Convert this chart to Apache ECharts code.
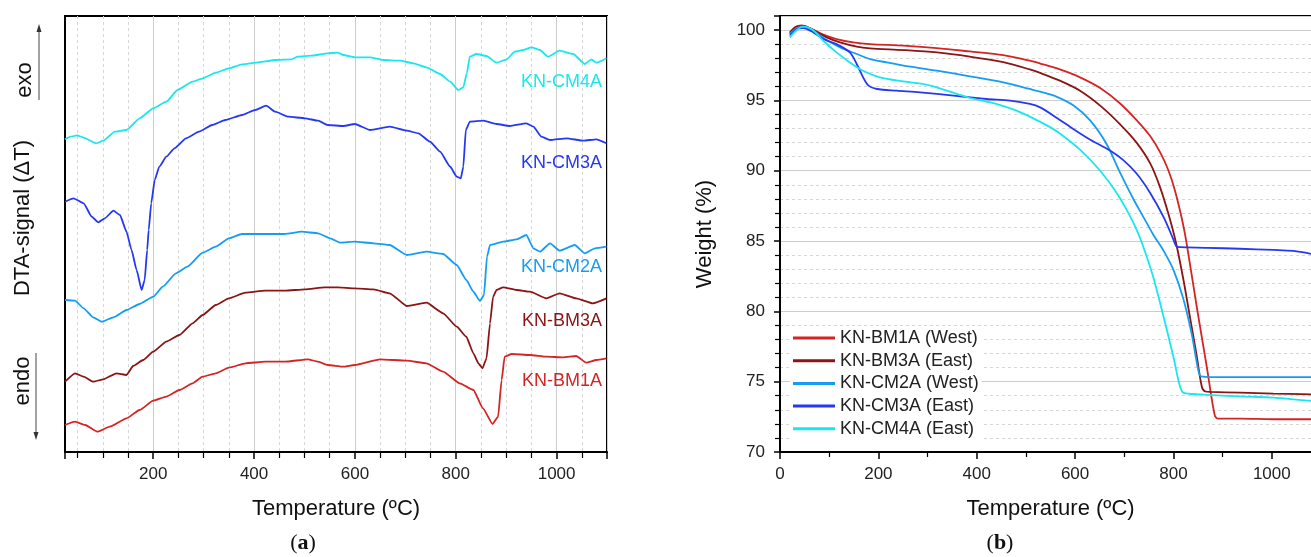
<!DOCTYPE html>
<html><head><meta charset="utf-8">
<script src="https://cdn.jsdelivr.net/npm/echarts@6/dist/echarts.min.js"></script>
<style>html,body{margin:0;padding:0;background:#fff}#c{width:1311px;height:557px}</style>
</head><body><div id="c"></div>
<script>
// ---------- names ----------
const dtaNames = ['KN-BM1A', 'KN-BM3A', 'KN-CM2A', 'KN-CM3A', 'KN-CM4A'];
const tgaNames = ['KN-BM1A (West)', 'KN-BM3A (East)', 'KN-CM2A (West)', 'KN-CM3A (East)', 'KN-CM4A (East)'];

// ---------- (a) DTA signal, arbitrary units (offset curves): [T (ºC), signal] ----------
const dtaBM1A = [[25,27],[45,30.3],[65,27],[89,20.3],[114,25.3],[147,33.7],[173,42],[200,51.3],[226,55.3],[252,62],[278,68.7],[298,75.3],[324,78.7],[350,84.3],[383,88.7],[422,90.3],[461,90.3],[507,92.7],[527,90.3],[546,87],[577,85.3],[600,87],[650,92.7],[703,91.3],[742,88.7],[775,80.3],[808,68.7],[835,62],[854,43.7],[873,28],[884,35.3],[891,72],[897,95.3],[911,98],[947,97],[980,95.3],[1013,94.7],[1039,96],[1059,89.3],[1079,92],[1099,93.7]];
const dtaBM3A = [[25,70.3],[45,78.7],[62,75.3],[81,70.3],[101,72.7],[127,78.7],[147,77],[160,86],[180,92],[200,100.3],[226,110.3],[252,117],[278,128.7],[298,137],[324,147],[350,153.7],[383,159.3],[422,161.3],[461,161.3],[501,162.7],[540,164.7],[566,164.7],[600,163.7],[637,162.7],[669,158.7],[703,146],[742,149.3],[775,138.7],[802,125.3],[821,115.3],[835,98.7],[845,88.7],[853,83.7],[861,93.7],[868,128.7],[874,155.3],[881,162],[894,164.7],[921,162],[947,160.3],[980,153.7],[1006,158.7],[1039,153.7],[1072,148.7],[1099,153.7]];
const dtaCM2A = [[25,152],[45,151.3],[62,143.7],[81,134.7],[98,130.3],[121,134.7],[147,142],[173,148],[200,155.3],[219,165.3],[245,178.7],[268,185.3],[298,199.3],[324,205.3],[350,213.7],[376,218],[422,218],[461,218],[494,220.3],[527,218.7],[551,213.7],[571,209.3],[600,210.3],[637,208.7],[669,207],[703,197],[742,200.3],[775,198],[802,187],[821,172],[835,160.3],[848,151],[856,157],[862,195.3],[868,207],[894,210.3],[921,212.7],[940,217],[954,203.7],[967,200.3],[987,208.7],[1006,201.3],[1036,207],[1056,198.7],[1076,203.7],[1099,205.3]];
const dtaCM3A = [[25,250.3],[42,253.7],[62,248.7],[78,235.3],[91,229.7],[104,233.7],[121,241.3],[134,237],[147,220.3],[157,202],[167,182],[177,162],[183,172],[188,202],[191,222],[196,248.7],[203,272],[212,285.3],[226,295.3],[242,303.7],[265,313.7],[291,320.3],[317,327],[343,332],[376,337],[402,342],[424,346.3],[442,340.3],[468,335.3],[501,333.7],[527,331.3],[546,327],[577,326],[600,328],[630,322],[669,325.3],[703,321.3],[726,318.7],[749,310.3],[769,300.3],[789,285.3],[802,275.3],[810,273.7],[815,285.3],[820,322],[828,330.3],[855,331.3],[881,328],[907,326],[940,328.7],[954,325.3],[970,315.3],[987,312],[1020,313.7],[1053,311.3],[1079,312.7],[1099,308.7]];
const dtaCM4A = [[25,312.7],[36,315.3],[49,316.7],[62,314.3],[87,308.7],[101,311.3],[124,320.3],[147,322],[173,333.7],[200,343.7],[226,350.3],[248,362],[278,370.3],[298,373.7],[324,379.3],[350,383.7],[376,387.7],[409,389.7],[442,392],[474,392.7],[487,395.3],[514,396.3],[546,398.7],[566,399.3],[577,397],[600,394.7],[630,394.7],[656,392],[689,391.3],[716,388.7],[742,384.7],[769,378],[789,370.3],[805,362],[815,364.7],[822,378.7],[828,395.3],[841,398],[861,396],[881,389.3],[901,392.7],[917,400.3],[934,402],[950,404.7],[967,402],[983,395.3],[1006,401.3],[1033,398],[1056,388],[1069,392.7],[1079,389.3],[1099,393.7]];

// ---------- (b) TGA weight (%): [T (ºC), weight] ----------
const tgaBM1A = [[20,99.75],[30,100.19],[44,100.33],[61,100.14],[88,99.67],[115,99.36],[149,99.12],[183,99.0],[251,98.89],[319,98.72],[386,98.48],[454,98.22],[508,97.82],[529,97.62],[569,97.2],[610,96.64],[651,95.88],[691,94.8],[725,93.6],[753,92.45],[773,91.3],[790,90.0],[803,88.6],[817,86.6],[826,85.0],[847,80.4],[868,76.0],[884,72.6],[891,72.37],[936,72.37],[1003,72.33],[1080,72.33]];
const tgaBM3A = [[20,99.83],[34,100.24],[47,100.28],[68,100.0],[95,99.48],[122,99.12],[156,98.82],[183,98.7],[251,98.58],[319,98.41],[386,98.11],[454,97.72],[508,97.2],[529,96.95],[569,96.4],[610,95.69],[651,94.63],[691,93.32],[725,92.0],[753,90.5],[773,88.8],[790,86.9],[805,84.9],[820,82.3],[834,79.5],[847,76.9],[858,74.6],[865,74.3],[875,74.27],[936,74.22],[1003,74.15],[1080,74.1]];
const tgaCM2A = [[20,99.72],[34,100.14],[47,100.24],[68,99.95],[95,99.29],[122,98.77],[156,98.3],[183,97.94],[217,97.7],[251,97.47],[319,97.11],[386,96.71],[454,96.28],[508,95.81],[529,95.62],[563,95.25],[597,94.63],[631,93.56],[664,91.9],[691,89.9],[719,87.95],[739,86.7],[759,85.45],[780,84.3],[800,82.95],[820,80.9],[837,78.41],[850,75.9],[856,75.38],[881,75.33],[969,75.33],[1080,75.33]];
const tgaCM3A = [[20,99.6],[34,100.07],[47,100.14],[68,99.83],[88,99.36],[115,99.0],[142,98.41],[156,97.59],[169,96.64],[180,96.05],[197,95.81],[237,95.69],[285,95.57],[353,95.34],[420,95.1],[468,94.98],[508,94.75],[529,94.5],[563,93.75],[597,92.95],[631,92.2],[671,91.43],[698,90.75],[725,89.8],[753,88.4],[780,86.7],[797,85.35],[806,84.62],[813,84.56],[868,84.52],[935,84.45],[1003,84.37],[1044,84.3],[1080,84.09]];
const tgaCM4A = [[20,99.48],[34,100.0],[47,100.24],[64,100.07],[88,99.24],[115,98.41],[142,97.7],[169,97.11],[203,96.64],[251,96.35],[298,96.12],[339,95.69],[386,95.17],[441,94.74],[481,94.27],[522,93.6],[549,93.1],[569,92.65],[610,91.5],[651,90.0],[685,88.4],[712,86.75],[730,85.4],[745,83.95],[760,82.3],[780,79.6],[800,76.75],[813,74.7],[821,74.2],[854,74.1],[935,73.96],[1003,73.87],[1080,73.63]];

// ---------- axis tick values ----------
const dtaTempTicks = [200, 400, 600, 800, 1000];
const tgaTempTicks = [0, 200, 400, 600, 800, 1000];
const weightTicks = [70, 75, 80, 85, 90, 95, 100];

// ---------- styling ----------
const COLORS = ['#d42424', '#8b1414', '#169df2', '#2639f0', '#18e8ee'];
const FONT = 'Liberation Sans, Arial, sans-serif';

const dtaData = [dtaBM1A, dtaBM3A, dtaCM2A, dtaCM3A, dtaCM4A];
const tgaData = [tgaBM1A, tgaBM3A, tgaCM2A, tgaCM3A, tgaCM4A];
const dtaLabelY = [381, 321, 267, 163, 82];

const chart = echarts.init(document.getElementById('c'), null, {renderer: 'canvas'});

const series = [];
dtaData.forEach((d, i) => series.push({
  name: dtaNames[i], type: 'line', xAxisIndex: 0, yAxisIndex: 0, data: d,
  showSymbol: false, symbol: 'none', smooth: 0.15, smoothMonotone: 'x',
  lineStyle: {color: COLORS[i], width: 1.8}, itemStyle: {color: COLORS[i]}, z: 3
}));
tgaData.forEach((d, i) => series.push({
  name: tgaNames[i], type: 'line', xAxisIndex: 1, yAxisIndex: 1, data: d,
  showSymbol: false, symbol: 'none', smooth: 0.3,
  lineStyle: {color: COLORS[i], width: 1.8}, itemStyle: {color: COLORS[i]}, z: 3
}));

const graphic = [];
// DTA axis annotations
graphic.push({type: 'text', x: 23, y: 218, rotation: Math.PI / 2,
  style: {text: 'DTA-signal (ΔT)', font: '22px ' + FONT, fill: '#111', textAlign: 'center', textVerticalAlign: 'middle'}});
graphic.push({type: 'text', x: 25, y: 80, rotation: Math.PI / 2,
  style: {text: 'exo', font: '22px ' + FONT, fill: '#111', textAlign: 'center', textVerticalAlign: 'middle'}});
graphic.push({type: 'text', x: 23, y: 381, rotation: Math.PI / 2,
  style: {text: 'endo', font: '22px ' + FONT, fill: '#111', textAlign: 'center', textVerticalAlign: 'middle'}});
graphic.push({type: 'line', shape: {x1: 39, y1: 100, x2: 39, y2: 30}, style: {stroke: '#444', lineWidth: 1}});
graphic.push({type: 'polygon', shape: {points: [[39, 24], [36.5, 32], [41.5, 32]]}, style: {fill: '#333'}});
graphic.push({type: 'line', shape: {x1: 36, y1: 353, x2: 36, y2: 432}, style: {stroke: '#444', lineWidth: 1}});
graphic.push({type: 'polygon', shape: {points: [[36, 440], [33.5, 432], [38.5, 432]]}, style: {fill: '#333'}});
// curve labels
dtaNames.forEach((n, i) => graphic.push({type: 'text', x: 602, y: dtaLabelY[i],
  style: {text: n, font: '18px ' + FONT, fill: COLORS[i], textAlign: 'right', textVerticalAlign: 'middle'}, z: 10}));
// panel captions
[['a', 303], ['b', 1000]].forEach(([t, x]) => graphic.push({type: 'text', x: x, y: 543,
  style: {text: '{p|(}{b|' + t + '}{p|)}', textAlign: 'center', textVerticalAlign: 'middle',
    rich: {p: {font: '22px Liberation Serif, serif', fill: '#111'}, b: {font: 'bold 22px Liberation Serif, serif', fill: '#111'}}}}));

const labelFmt = ticks => v => (ticks.indexOf(Math.round(v * 1000) / 1000) >= 0 ? String(v) : '');

chart.setOption({
  animation: false,
  backgroundColor: '#fff',
  textStyle: {fontFamily: FONT},
  grid: [
    {left: 65, top: 16, width: 542, height: 436, show: true, borderColor: '#000', borderWidth: 2, backgroundColor: 'transparent', containLabel: false, outerBoundsMode: 'none'},
    {left: 780, top: 16, width: 541, height: 436, show: true, borderColor: '#000', borderWidth: 2, backgroundColor: 'transparent', containLabel: false, outerBoundsMode: 'none'}
  ],
  legend: {
    data: tgaNames, orient: 'vertical', left: 790, top: 327, padding: [2, 3, 2, 3],
    backgroundColor: '#fff', icon: 'rect', itemWidth: 42, itemHeight: 3, itemGap: 4.7,
    textStyle: {fontSize: 18, color: '#222', fontFamily: FONT, lineHeight: 18},
    selectedMode: false
  },
  xAxis: [
    {gridIndex: 0, type: 'value', min: 25, max: 1100, splitNumber: 5,
      name: 'Temperature (ºC)', nameLocation: 'middle', nameGap: 46,
      nameTextStyle: {fontSize: 22, color: '#111', fontFamily: FONT},
      axisLine: {show: true, lineStyle: {color: '#000', width: 2}},
      axisTick: {show: true, length: 7, lineStyle: {color: '#000', width: 1.5}},
      minorTick: {show: true, splitNumber: 4, length: 6, lineStyle: {color: '#000', width: 1.2}},
      axisLabel: {fontSize: 17, color: '#222', margin: 14, fontFamily: FONT, formatter: labelFmt(dtaTempTicks)},
      splitLine: {show: true, lineStyle: {color: '#cdcdcd', width: 1}},
      minorSplitLine: {show: true, lineStyle: {color: '#d6d6d6', width: 1, type: [3, 3]}}
    },
    {gridIndex: 1, type: 'value', min: 0, max: 1100, interval: 200,
      name: 'Temperature (ºC)', nameLocation: 'middle', nameGap: 46,
      nameTextStyle: {fontSize: 22, color: '#111', fontFamily: FONT},
      axisLine: {show: true, lineStyle: {color: '#000', width: 2}},
      axisTick: {show: true, length: 7, lineStyle: {color: '#000', width: 1.5}},
      minorTick: {show: true, splitNumber: 2, length: 5, lineStyle: {color: '#000', width: 1.2}},
      axisLabel: {fontSize: 17, color: '#222', margin: 14, fontFamily: FONT, formatter: labelFmt(tgaTempTicks)},
      splitLine: {show: false}, minorSplitLine: {show: false}
    }
  ],
  yAxis: [
    {gridIndex: 0, type: 'value', min: 0, max: 436,
      axisLine: {show: true, lineStyle: {color: '#000', width: 2}},
      axisTick: {show: false}, axisLabel: {show: false}, splitLine: {show: false}
    },
    {gridIndex: 1, type: 'value', min: 70, max: 101, interval: 5,
      name: 'Weight (%)', nameLocation: 'middle', nameGap: 64,
      nameTextStyle: {fontSize: 22, color: '#111', fontFamily: FONT},
      axisLine: {show: true, lineStyle: {color: '#000', width: 2}},
      axisTick: {show: true, length: 6, lineStyle: {color: '#000', width: 1.5}},
      minorTick: {show: true, splitNumber: 5, length: 5, lineStyle: {color: '#000', width: 1.2}},
      axisLabel: {fontSize: 17, color: '#222', margin: 15, fontFamily: FONT, formatter: labelFmt(weightTicks)},
      splitLine: {show: true, lineStyle: {color: '#cdcdcd', width: 1}},
      minorSplitLine: {show: true, lineStyle: {color: '#d6d6d6', width: 1, type: [3, 3]}}
    }
  ],
  series: series,
  graphic: graphic
});
</script>
</body></html>
